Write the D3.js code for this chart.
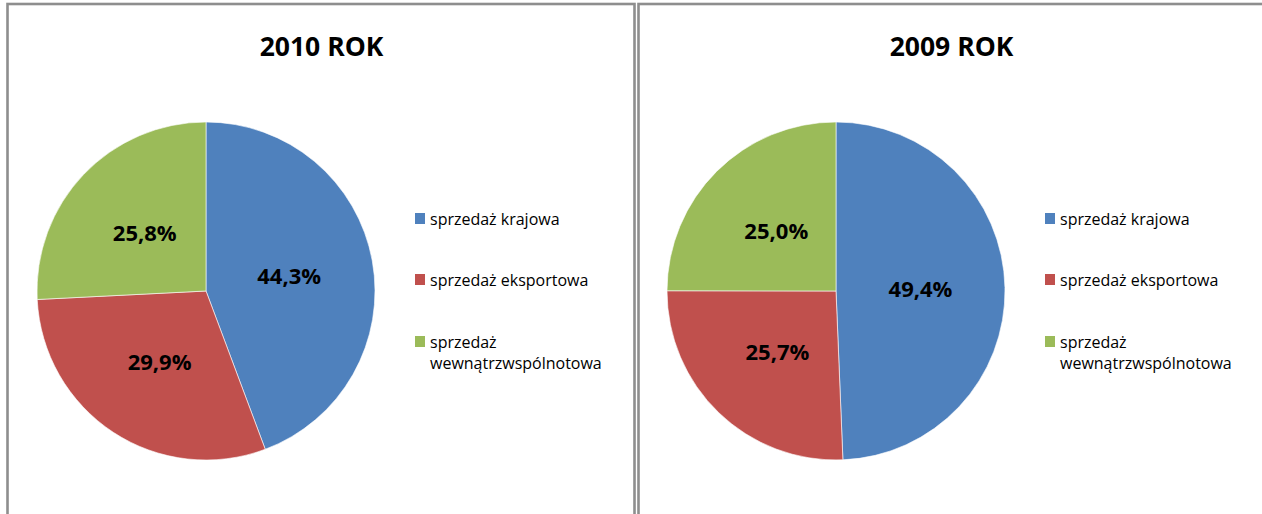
<!DOCTYPE html>
<html>
<head>
<meta charset="utf-8">
<script src="https://cdn.jsdelivr.net/npm/d3@7"></script>
<style>
  html, body { margin: 0; padding: 0; background: #fff; }
  svg { display: block; }
</style>
</head>
<body>
<svg id="chart" width="1262" height="514"></svg>
<script>
// Sales structure by channel, two years side by side
const categories = ["sprzedaż krajowa", "sprzedaż eksportowa", "sprzedaż wewnątrzwspólnotowa"];
const legendLines = [["sprzedaż krajowa"], ["sprzedaż eksportowa"], ["sprzedaż", "wewnątrzwspólnotowa"]];
const titles = ["2010 ROK", "2009 ROK"];
const values2010 = [44.3, 29.9, 25.8];
const values2009 = [49.4, 25.7, 25.0];
const colors = ["#4f81bd", "#c0504d", "#9bbb59"];

const svg = d3.select("#chart");
const FONT = "'Open Sans', 'Noto Sans', sans-serif";

const panels = [
  { frameX: 7.5, frameW: 627, x: 7.5, width: 627, values: values2010, title: titles[0] },
  { frameX: 638.5, frameW: 640, x: 637.5, width: 627, values: values2009, title: titles[1] }
];

const color = d3.scaleOrdinal().domain(categories).range(colors);
const pie = d3.pie().sort(null).value(d => d.value);
const R = 169;
const arc = d3.arc().innerRadius(0).outerRadius(R);
const labelArc = d3.arc().innerRadius(R * 0.5).outerRadius(R * 0.5);
const fmt = v => d3.format(".1f")(v).replace(".", ",") + "%";

panels.forEach(p => {
  const g = svg.append("g");

  // chart frame
  g.append("rect")
    .attr("x", p.frameX).attr("y", 4)
    .attr("width", p.frameW).attr("height", 600)
    .attr("fill", "none")
    .attr("stroke", "#8e8e8e")
    .attr("stroke-width", 2.6);

  // title
  g.append("text")
    .attr("x", p.x + p.width / 2 + 0.5)
    .attr("y", 56)
    .attr("text-anchor", "middle")
    .attr("font-family", FONT)
    .attr("font-weight", "bold")
    .attr("font-size", 26.5)
    .attr("fill", "#000")
    .text(p.title);

  const cx = p.x + 198.5, cy = 291;
  const data = categories.map((c, i) => ({ cat: c, value: p.values[i] }));
  const arcs = pie(data);

  const pg = g.append("g").attr("transform", `translate(${cx},${cy})`);
  pg.selectAll("path").data(arcs).join("path")
    .attr("d", arc)
    .attr("fill", d => color(d.data.cat))
    .attr("stroke", "#fff")
    .attr("stroke-width", 0.6);

  pg.selectAll("text").data(arcs).join("text")
    .attr("transform", d => { const c = labelArc.centroid(d); return `translate(${c[0]},${c[1]})`; })
    .attr("text-anchor", "middle")
    .attr("dy", "0.36em")
    .attr("font-family", FONT)
    .attr("font-weight", "bold")
    .attr("font-size", 22)
    .attr("fill", "#000")
    .text(d => fmt(d.data.value));

  // legend
  const lx = p.x + 407.5;
  const baselines = [225, 286, 348];
  categories.forEach((c, i) => {
    g.append("rect")
      .attr("x", lx).attr("y", baselines[i] - 12)
      .attr("width", 10).attr("height", 11)
      .attr("fill", color(c));
    const t = g.append("text")
      .attr("x", lx + 15).attr("y", baselines[i])
      .attr("font-family", FONT)
      .attr("font-size", 16)
      .attr("fill", "#000");
    legendLines[i].forEach((line, j) => {
      t.append("tspan").attr("x", lx + 15).attr("dy", j === 0 ? 0 : 21).text(line);
    });
  });
});
</script>
</body>
</html>
